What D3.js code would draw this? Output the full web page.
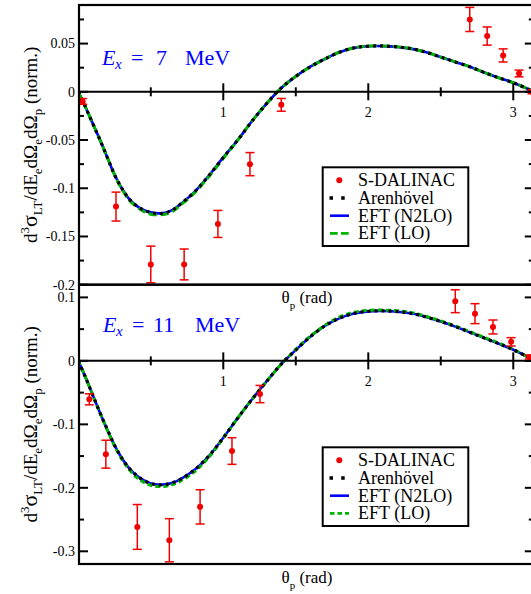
<!DOCTYPE html>
<html><head><meta charset="utf-8">
<script src="https://cdn.jsdelivr.net/npm/d3@7"></script>
<style>body{margin:0;background:#fff}svg{display:block}</style>
</head><body><svg id="c" width="531" height="594" font-family="'Liberation Serif', 'Liberation Sans', Arial, sans-serif"></svg>
<script>
// ---------- data ----------
const thetaGrid = [0,0.05,0.1,0.15,0.2,0.25,0.3,0.35,0.4,0.45,0.5,0.55,0.6,0.65,0.7,0.8,0.9,1.0,1.1,1.2,1.3,1.4,1.5,1.6,1.7,1.8,1.9,2.0,2.1,2.2,2.3,2.4,2.5,2.6,2.7,2.8,2.9,3.0,3.1,3.1416];

// Ex = 7 MeV
const top_n2lo = [0,-0.016,-0.033,-0.050,-0.068,-0.086,-0.100,-0.111,-0.118,-0.1225,-0.125,-0.126,-0.1255,-0.1225,-0.117,-0.104,-0.087,-0.068,-0.050,-0.030,-0.012,0.004,0.016,0.026,0.034,0.041,0.0455,0.0472,0.0474,0.0465,0.0445,0.041,0.036,0.031,0.026,0.020,0.0145,0.0094,0.003,0];
const top_arenhovel = [0,-0.016,-0.033,-0.050,-0.068,-0.086,-0.100,-0.111,-0.118,-0.1225,-0.1252,-0.1262,-0.1255,-0.1225,-0.117,-0.104,-0.087,-0.068,-0.050,-0.030,-0.012,0.004,0.016,0.026,0.034,0.041,0.0456,0.0473,0.0475,0.0466,0.0446,0.041,0.036,0.031,0.026,0.020,0.0145,0.0094,0.003,0];
const top_lo = [0,-0.016,-0.033,-0.050,-0.068,-0.086,-0.101,-0.112,-0.119,-0.124,-0.127,-0.1275,-0.127,-0.124,-0.118,-0.105,-0.088,-0.069,-0.050,-0.030,-0.012,0.004,0.016,0.026,0.034,0.041,0.0457,0.0474,0.0476,0.0467,0.0447,0.041,0.036,0.031,0.026,0.020,0.0145,0.0094,0.003,0];
const top_expTheta = [0.03,0.26,0.50,0.73,0.963,1.184,1.40,2.70,2.82,2.93,3.04,3.13];
const top_expVal   = [-0.010,-0.119,-0.179,-0.179,-0.137,-0.075,-0.0135,0.075,0.0578,0.0377,0.019,0.0];
const top_expErr   = [0.003,0.015,0.019,0.016,0.014,0.012,0.0066,0.0125,0.0094,0.0068,0.0035,0.002];

// Ex = 11 MeV
const bot_n2lo = [0,-0.026,-0.054,-0.082,-0.108,-0.133,-0.153,-0.169,-0.180,-0.188,-0.193,-0.195,-0.1945,-0.192,-0.187,-0.172,-0.150,-0.121,-0.090,-0.060,-0.032,-0.005,0.017,0.038,0.055,0.067,0.0745,0.078,0.0785,0.0775,0.0745,0.069,0.062,0.054,0.045,0.036,0.027,0.0175,0.006,0];
const bot_arenhovel = [0,-0.026,-0.054,-0.082,-0.108,-0.133,-0.153,-0.169,-0.180,-0.188,-0.193,-0.1952,-0.1947,-0.192,-0.187,-0.172,-0.150,-0.121,-0.090,-0.060,-0.032,-0.005,0.017,0.038,0.055,0.067,0.0747,0.0782,0.0787,0.0777,0.0747,0.069,0.062,0.054,0.045,0.036,0.027,0.0175,0.006,0];
const bot_lo = [0,-0.026,-0.054,-0.082,-0.109,-0.134,-0.155,-0.171,-0.183,-0.191,-0.196,-0.198,-0.1975,-0.195,-0.190,-0.175,-0.152,-0.122,-0.090,-0.060,-0.032,-0.005,0.018,0.039,0.056,0.069,0.0765,0.0795,0.080,0.079,0.076,0.070,0.063,0.055,0.046,0.037,0.028,0.018,0.006,0];
const bot_expTheta = [0.076,0.19,0.407,0.628,0.84,1.06,1.253,2.60,2.736,2.86,2.985,3.11];
const bot_expVal   = [-0.0606,-0.147,-0.2616,-0.2826,-0.230,-0.142,-0.0523,0.094,0.0744,0.0534,0.030,0.006];
const bot_expErr   = [0.0087,0.022,0.0353,0.034,0.027,0.021,0.0136,0.018,0.0157,0.011,0.0066,0.003];

const xTicksMajor = [1,2,3];
const xTicksMinor = [0.5,1.5,2.5];
const top_yMajor = [0.05,0,-0.05,-0.1,-0.15,-0.2];
const top_yLabels = ["0.05","0","-0.05","-0.1","-0.15","-0.2"];
const top_yMinor = [0.075,0.025,-0.025,-0.075,-0.125,-0.175];
const bot_yMajor = [0.1,0,-0.1,-0.2,-0.3];
const bot_yLabels = ["0.1","0","-0.1","-0.2","-0.3"];
const bot_yMinor = [0.05,-0.05,-0.15,-0.25];
const legendLabels = ["S-DALINAC","Arenhövel","EFT (N2LO)","EFT (LO)"];
const panelEnergies = ["7","11"];

// ---------- drawing ----------
const svg = d3.select("#c");
const x = d3.scaleLinear().domain([0, 3.1416]).range([78.3, 533.8]);
const RED="#f00000", BLUE="#0000ff", GREEN="#00b400";

const panels = [
  {top:5, bottom:284.7, dom:[-0.2,0.09], n2lo:top_n2lo, aren:top_arenhovel, lo:top_lo,
   et:top_expTheta, ev:top_expVal, ee:top_expErr, maj:top_yMajor, lab:top_yLabels, min:top_yMinor,
   E:panelEnergies[0], ePos:{E:102,x:115,eq:131,num:156,mev:185,base:65}, loDash:"8,4", legTop:167.3},
  {top:284.7, bottom:564, dom:[-0.32,0.12], n2lo:bot_n2lo, aren:bot_arenhovel, lo:bot_lo,
   et:bot_expTheta, ev:bot_expVal, ee:bot_expErr, maj:bot_yMajor, lab:bot_yLabels, min:bot_yMinor,
   E:panelEnergies[1], ePos:{E:103,x:116,eq:132,num:153,mev:195,base:332}, loDash:"5,3", legTop:447.3}
];

const xL = 79, xR = 533.8;

panels.forEach(p => {
  const y = d3.scaleLinear().domain(p.dom).range([p.bottom, p.top]);
  const g = svg.append("g");
  const clipId = "clip" + Math.round(p.top);
  svg.append("clipPath").attr("id", clipId).append("rect")
     .attr("x", xL).attr("y", p.top).attr("width", xR - xL).attr("height", p.bottom - p.top);

  const line = arr => d3.line().x((d,i)=>x(thetaGrid[i])).y(d=>y(d)).curve(d3.curveCatmullRom)(arr);
  const cg = g.append("g").attr("clip-path", `url(#${clipId})`);

  // zero line
  g.append("line").attr("x1", xL).attr("x2", xR).attr("y1", y(0)).attr("y2", y(0))
   .attr("stroke","#000").attr("stroke-width",2);

  cg.append("path").attr("d", line(p.n2lo)).attr("fill","none").attr("stroke",BLUE).attr("stroke-width",2.6);
  cg.append("path").attr("d", line(p.lo)).attr("fill","none").attr("stroke",GREEN).attr("stroke-width",3)
    .attr("stroke-dasharray", p.loDash);
  cg.append("path").attr("d", line(p.aren)).attr("fill","none").attr("stroke","#000").attr("stroke-width",3.2)
    .attr("stroke-dasharray","3,4");

  // experimental points
  const eg = g.append("g");
  p.et.forEach((t,i) => {
    const cx = x(t), v = p.ev[i], e = p.ee[i];
    eg.append("line").attr("x1",cx).attr("x2",cx).attr("y1",y(v-e)).attr("y2",y(v+e)).attr("stroke",RED).attr("stroke-width",1.5);
    [v-e, v+e].forEach(vv => eg.append("line").attr("x1",cx-4.5).attr("x2",cx+4.5).attr("y1",y(vv)).attr("y2",y(vv))
       .attr("stroke",RED).attr("stroke-width",1.5));
    eg.append("circle").attr("cx",cx).attr("cy",y(v)).attr("r",3).attr("fill",RED);
  });

  // x ticks on zero line
  xTicksMajor.forEach(t => {
    g.append("line").attr("x1",x(t)).attr("x2",x(t)).attr("y1",y(0)-8.5).attr("y2",y(0)+8.5).attr("stroke","#000").attr("stroke-width",2);
    g.append("text").attr("x",x(t)).attr("y",y(0)+25).attr("text-anchor","middle").style("font-size","14px").text(t);
  });
  xTicksMinor.forEach(t => {
    g.append("line").attr("x1",x(t)).attr("x2",x(t)).attr("y1",y(0)-4.5).attr("y2",y(0)+4.5).attr("stroke","#000").attr("stroke-width",2);
  });

  // y ticks
  p.maj.forEach((v,i) => {
    g.append("line").attr("x1",xL).attr("x2",xL+9).attr("y1",y(v)).attr("y2",y(v)).attr("stroke","#000").attr("stroke-width",2);
    g.append("line").attr("x1",xR-9).attr("x2",xR).attr("y1",y(v)).attr("y2",y(v)).attr("stroke","#000").attr("stroke-width",2);
    g.append("text").attr("x",75).attr("y",y(v)).attr("dy","0.35em").attr("text-anchor","end").style("font-size","14px").text(p.lab[i]);
  });
  p.min.forEach(v => {
    g.append("line").attr("x1",xL).attr("x2",xL+5).attr("y1",y(v)).attr("y2",y(v)).attr("stroke","#000").attr("stroke-width",2);
    g.append("line").attr("x1",xR-5).attr("x2",xR).attr("y1",y(v)).attr("y2",y(v)).attr("stroke","#000").attr("stroke-width",2);
  });

  // frame
  g.append("rect").attr("x",xL).attr("y",p.top).attr("width",xR-xL).attr("height",p.bottom-p.top)
   .attr("fill","none").attr("stroke","#000").attr("stroke-width",2.2);

  // energy label
  const ep = p.ePos;
  const et = g.append("g").attr("fill",BLUE).style("font-size","22px");
  et.append("text").attr("x",ep.E).attr("y",ep.base).style("font-style","italic").text("E");
  et.append("text").attr("x",ep.x).attr("y",ep.base+4).style("font-style","italic").style("font-size","15px").text("x");
  et.append("text").attr("x",ep.eq).attr("y",ep.base).text("=");
  et.append("text").attr("x",ep.num).attr("y",ep.base).text(p.E);
  et.append("text").attr("x",ep.mev).attr("y",ep.base).text("MeV");

  // x axis title
  const xt = g.append("text").attr("x",307).attr("y",p.bottom+18.5).attr("text-anchor","middle").style("font-size","17px");
  xt.append("tspan").text("θ");
  xt.append("tspan").attr("dy",6).style("font-size","11px").text("p");
  xt.append("tspan").attr("dy",-6).text(" (rad)");

  // y axis title
  const cy = (p.top + p.bottom)/2;
  const yt = g.append("text").attr("transform",`translate(37,${cy}) rotate(-90)`).attr("text-anchor","middle").style("font-size","19px");
  yt.append("tspan").text("d");
  yt.append("tspan").attr("dy",-8).style("font-size","13px").text("3");
  yt.append("tspan").attr("dy",8).style("font-size","22px").text("σ");
  yt.append("tspan").attr("dy",5).style("font-size","13px").text("LT");
  yt.append("tspan").attr("dy",-5).text("/dE");
  yt.append("tspan").attr("dy",5).style("font-size","13px").text("e");
  yt.append("tspan").attr("dy",-5).text("dΩ");
  yt.append("tspan").attr("dy",5).style("font-size","13px").text("e");
  yt.append("tspan").attr("dy",-5).text("dΩ");
  yt.append("tspan").attr("dy",5).style("font-size","13px").text("p");
  yt.append("tspan").attr("dy",-5).text(" (norm.)");

  // legend
  const lt = p.legTop;
  const lg = g.append("g");
  lg.append("rect").attr("x",322.7).attr("y",lt).attr("width",145.6).attr("height",78.7)
    .attr("fill","#fff").attr("stroke","#000").attr("stroke-width",2);
  const rows = [13, 30.7, 48.4, 66.1];
  rows.forEach((r,i) => {
    lg.append("text").attr("x",358).attr("y",lt+r+6).style("font-size","18px").text(legendLabels[i]);
  });
  lg.append("circle").attr("cx",339.3).attr("cy",lt+rows[0]).attr("r",3).attr("fill",RED);
  lg.append("line").attr("x1",329.5).attr("x2",346).attr("y1",lt+rows[1]).attr("y2",lt+rows[1])
    .attr("stroke","#000").attr("stroke-width",3.5).attr("stroke-dasharray","3.5,8.2");
  lg.append("line").attr("x1",330).attr("x2",349).attr("y1",lt+rows[2]).attr("y2",lt+rows[2])
    .attr("stroke",BLUE).attr("stroke-width",2.6);
  lg.append("line").attr("x1",330).attr("x2",349).attr("y1",lt+rows[3]).attr("y2",lt+rows[3])
    .attr("stroke",GREEN).attr("stroke-width",2.6).attr("stroke-dasharray", p.loDash === "8,4" ? "7.7,3.3" : "4.5,3");
});
</script></body></html>
